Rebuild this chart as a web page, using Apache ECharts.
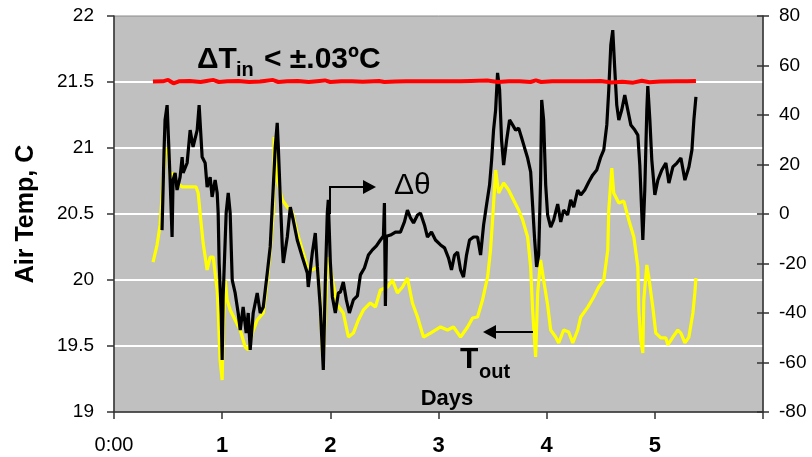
<!DOCTYPE html>
<html>
<head>
<meta charset="utf-8">
<script src="https://cdn.jsdelivr.net/npm/echarts@6/dist/echarts.min.js"></script>
<style>
html,body{margin:0;padding:0;background:#fff;}
#chart{width:812px;height:457px;}
</style>
</head>
<body>
<div id="chart"></div>
<script>
// ---- Data (days on x) ----
const xTickLabels = ['0:00', '1', '2', '3', '4', '5', ''];

// Delta T_in (left axis, C)
const redDays = [0.36,0.45,0.5,0.55,0.6,0.7,0.8,0.87,0.92,0.97,1.05,1.15,1.25,1.35,1.47,1.52,1.6,1.7,1.8,1.95,2.0,2.1,2.2,2.3,2.45,2.5,2.6,2.7,2.8,2.9,3.0,3.1,3.2,3.3,3.45,3.55,3.65,3.75,3.85,3.9,3.95,4.05,4.15,4.25,4.35,4.5,4.6,4.7,4.8,4.88,4.95,5.05,5.2,5.3,5.38];
const redTemp = [21.503,21.505,21.515,21.49,21.505,21.507,21.5,21.51,21.515,21.5,21.505,21.508,21.5,21.503,21.515,21.5,21.505,21.507,21.5,21.512,21.5,21.505,21.505,21.502,21.507,21.5,21.503,21.505,21.505,21.505,21.505,21.505,21.505,21.508,21.512,21.5,21.505,21.505,21.5,21.513,21.5,21.505,21.505,21.505,21.505,21.507,21.497,21.502,21.495,21.51,21.498,21.503,21.505,21.505,21.508];

// Delta theta (right axis)
const blackDays = [0.444,0.463,0.472,0.491,0.519,0.537,0.546,0.565,0.583,0.611,0.630,0.639,0.676,0.704,0.731,0.769,0.787,0.815,0.843,0.861,0.889,0.907,0.935,0.954,0.963,0.972,0.991,1.000,1.009,1.037,1.056,1.074,1.093,1.120,1.148,1.167,1.194,1.222,1.241,1.259,1.287,1.324,1.352,1.380,1.417,1.444,1.463,1.491,1.509,1.519,1.537,1.556,1.565,1.602,1.630,1.657,1.694,1.741,1.787,1.796,1.833,1.861,1.880,1.907,1.935,1.954,1.972,1.981,2.000,2.019,2.046,2.074,2.093,2.120,2.148,2.176,2.213,2.250,2.278,2.315,2.352,2.389,2.426,2.463,2.491,2.500,2.509,2.519,2.556,2.602,2.648,2.685,2.713,2.741,2.769,2.806,2.833,2.870,2.898,2.935,2.972,3.019,3.056,3.093,3.120,3.148,3.176,3.204,3.231,3.259,3.287,3.324,3.361,3.389,3.417,3.444,3.472,3.491,3.509,3.528,3.546,3.565,3.583,3.602,3.630,3.657,3.685,3.713,3.741,3.769,3.796,3.824,3.852,3.870,3.889,3.907,3.926,3.944,3.954,3.972,3.991,4.009,4.037,4.065,4.102,4.130,4.157,4.194,4.222,4.250,4.287,4.315,4.352,4.389,4.426,4.463,4.500,4.528,4.556,4.574,4.593,4.611,4.630,4.648,4.667,4.694,4.722,4.750,4.778,4.815,4.843,4.861,4.880,4.889,4.907,4.926,4.935,4.954,4.972,5.000,5.028,5.065,5.102,5.130,5.167,5.204,5.241,5.278,5.315,5.343,5.361,5.380];
const blackTheta = [-6.5,25.9,38.0,44.0,13.7,-9.3,13.7,16.6,9.7,14.9,23.0,16.6,20.6,33.9,27.1,33.9,44.0,23.0,20.6,10.9,14.9,6.9,13.7,8.5,0.4,-19.8,-40.0,-59.0,-33.5,0.4,8.5,0.4,-26.7,-31.9,-40.0,-46.9,-37.6,-48.1,-40.0,-54.9,-40.0,-31.9,-40.0,-37.6,-23.8,-13.3,2.8,27.1,36.8,27.1,6.9,-13.3,-19.8,-9.3,2.8,-2.4,-10.5,-17.4,-23.8,-29.5,-15.8,-7.7,-21.4,-37.6,-63.0,-26.7,0.4,5.7,-19.4,-33.5,-40.0,-31.9,-31.5,-27.5,-34.7,-40.0,-34.7,-33.1,-24.6,-21.8,-16.6,-14.5,-12.9,-10.5,-8.9,4.4,-37.2,-9.0,-8.5,-7.3,-7.3,-3.2,1.6,-1.6,-3.6,-0.4,0.4,-4.4,-9.3,-7.3,-10.5,-12.5,-13.7,-17.8,-22.6,-16.6,-15.4,-22.6,-25.5,-16.6,-10.5,-9.3,-9.3,-16.6,-4.4,3.6,11.7,21.8,33.9,42.0,57.0,50.1,29.9,19.8,29.9,38.0,36.0,33.9,34.7,30.7,26.7,22.6,17.0,3.6,-10.5,-21.4,-16.6,13.7,46.1,38.0,11.7,-0.4,-5.3,-2.4,4.0,-3.2,1.6,-0.4,5.7,2.8,9.7,7.7,9.7,12.9,15.8,17.8,23.0,25.9,36.0,50.1,68.3,74.3,58.2,44.0,38.0,42.0,48.1,42.0,36.0,33.9,31.9,19.8,-0.4,-10.5,9.7,42.0,51.7,38.0,21.8,7.7,13.7,17.8,20.6,12.5,19.0,20.6,22.6,13.7,19.0,25.9,38.0,47.3];

// T_out (left axis, C)
const yellowDays = [0.361,0.398,0.426,0.454,0.472,0.500,0.519,0.546,0.583,0.630,0.676,0.722,0.759,0.778,0.796,0.824,0.861,0.889,0.917,0.954,0.963,0.981,1.000,1.009,1.028,1.046,1.074,1.120,1.167,1.213,1.241,1.278,1.324,1.380,1.417,1.444,1.472,1.481,1.509,1.556,1.602,1.648,1.694,1.741,1.787,1.833,1.880,1.907,1.926,1.935,1.972,1.981,2.019,2.065,2.120,2.167,2.213,2.259,2.306,2.370,2.417,2.463,2.528,2.574,2.620,2.667,2.713,2.759,2.806,2.861,2.926,3.019,3.083,3.139,3.204,3.269,3.315,3.361,3.407,3.454,3.481,3.500,3.528,3.556,3.602,3.648,3.694,3.741,3.778,3.824,3.852,3.870,3.898,3.917,3.944,3.972,4.009,4.037,4.083,4.111,4.157,4.204,4.241,4.287,4.315,4.380,4.435,4.481,4.528,4.565,4.574,4.602,4.620,4.667,4.713,4.759,4.806,4.843,4.852,4.870,4.889,4.898,4.926,4.944,4.981,5.009,5.056,5.102,5.120,5.167,5.213,5.241,5.278,5.315,5.352,5.370,5.380];
const yellowTemp = [20.136,20.265,20.417,20.750,20.970,21.000,20.780,20.811,20.735,20.705,20.705,20.705,20.705,20.659,20.508,20.280,20.076,20.174,20.174,19.924,19.773,19.394,19.242,19.598,20.000,19.848,19.773,19.697,19.621,19.492,19.470,19.598,19.697,19.750,20.000,20.227,20.508,21.083,20.758,20.606,20.553,20.515,20.356,20.227,20.098,20.076,20.098,19.848,19.447,19.417,20.098,20.174,20.000,19.811,19.750,19.568,19.598,19.697,19.773,19.826,19.795,19.924,19.947,20.000,19.902,19.947,20.015,19.826,19.720,19.568,19.598,19.644,19.621,19.644,19.568,19.644,19.712,19.720,19.848,20.023,20.227,20.455,20.833,20.659,20.735,20.682,20.606,20.530,20.455,20.326,20.098,19.773,19.417,19.902,20.152,20.000,19.811,19.621,19.568,19.523,19.621,19.606,19.523,19.621,19.720,19.795,19.871,19.947,20.000,20.227,20.530,20.848,20.659,20.583,20.598,20.455,20.326,20.098,19.773,19.545,19.447,19.848,20.114,20.023,19.795,19.598,19.561,19.561,19.508,19.568,19.621,19.598,19.523,19.568,19.750,19.902,20.015];

const zip = (a, b) => a.map((v, i) => [v, b[i]]);
const FONT = '"Liberation Sans", Arial, sans-serif';

const chart = echarts.init(document.getElementById('chart'), null, {renderer: 'canvas'});

const axisLineStyle = {color: '#333333', width: 1.5};

chart.setOption({
  animation: false,
  backgroundColor: '#ffffff',
  grid: {
    left: 114, right: 49, top: 16, bottom: 45,
    show: true, backgroundColor: '#c0c0c0', borderColor: '#8a8a8a', borderWidth: 1
  },
  xAxis: {
    type: 'value', min: 0, max: 6, interval: 1,
    axisLine: {show: true, onZero: false, lineStyle: axisLineStyle},
    axisTick: {show: true, length: 7, lineStyle: axisLineStyle},
    splitLine: {show: false},
    axisLabel: {
      margin: 23,
      fontFamily: FONT,
      color: '#000',
      formatter: function (v) {
        const t = xTickLabels[Math.round(v)];
        return Math.round(v) === 0 ? '{n|' + t + '}' : '{b|' + t + '}';
      },
      rich: {
        n: {fontSize: 20, fontFamily: FONT, color: '#000'},
        b: {fontSize: 22, fontWeight: 'bold', fontFamily: FONT, color: '#000'}
      }
    }
  },
  yAxis: [
    {
      type: 'value', min: 19, max: 22, interval: 0.5, position: 'left',
      name: 'Air Temp, C', nameLocation: 'middle', nameGap: 75, nameRotate: 90,
      nameTextStyle: {fontSize: 25, fontWeight: 'bold', fontFamily: FONT, color: '#000'},
      axisLine: {show: true, lineStyle: axisLineStyle},
      axisTick: {show: true, length: 7, lineStyle: axisLineStyle},
      axisLabel: {margin: 20, fontSize: 19, fontFamily: FONT, color: '#000'},
      splitLine: {show: true, showMinLine: false, showMaxLine: false, lineStyle: {color: '#ffffff', width: 2}}
    },
    {
      type: 'value', min: -80, max: 80, interval: 20, position: 'right',
      axisLine: {show: true, lineStyle: axisLineStyle},
      axisTick: {show: true, length: 6, lineStyle: axisLineStyle},
      axisLabel: {margin: 16, fontSize: 19, fontFamily: FONT, color: '#000'},
      splitLine: {show: false}
    },
    {
      type: 'value', min: -80, max: 80, interval: 20, position: 'right',
      axisLine: {show: false},
      axisTick: {show: true, inside: true, length: 6, lineStyle: axisLineStyle},
      axisLabel: {show: false},
      splitLine: {show: false}
    }
  ],
  series: [
    {
      name: 'T_out', type: 'line', yAxisIndex: 0, showSymbol: false, symbol: 'none',
      data: zip(yellowDays, yellowTemp),
      lineStyle: {color: '#ffff00', width: 3.2}, z: 3
    },
    {
      name: 'Delta theta', type: 'line', yAxisIndex: 1, showSymbol: false, symbol: 'none',
      data: zip(blackDays, blackTheta),
      lineStyle: {color: '#000000', width: 3.2}, z: 4
    },
    {
      name: 'Delta T_in', type: 'line', yAxisIndex: 0, showSymbol: false, symbol: 'none',
      data: zip(redDays, redTemp),
      lineStyle: {color: '#ff0000', width: 4}, z: 5
    }
  ],
  graphic: [
    {type: 'text', z: 100, style: {x: 197, y: 60, text: '\u0394T', font: 'bold 30px ' + FONT, fill: '#000', textVerticalAlign: 'middle'}},
    {type: 'text', z: 100, style: {x: 236, y: 70, text: 'in', font: 'bold 20px ' + FONT, fill: '#000', textVerticalAlign: 'middle'}},
    {type: 'text', z: 100, style: {x: 264, y: 60, text: '< \u00b1.03\u00baC', font: 'bold 30px ' + FONT, fill: '#000', textVerticalAlign: 'middle'}},
    {type: 'text', z: 100, style: {x: 394, y: 186, text: '\u0394\u03b8', font: '30px ' + FONT, fill: '#000', textVerticalAlign: 'middle'}},
    {type: 'polyline', z: 100, shape: {points: [[330, 214], [330, 187], [364, 187]]}, style: {stroke: '#000', lineWidth: 2, fill: null}},
    {type: 'polygon', z: 100, shape: {points: [[363, 180], [376, 187], [363, 194]]}, style: {fill: '#000'}},
    {type: 'text', z: 100, style: {x: 460, y: 360, text: 'T', font: 'bold 30px ' + FONT, fill: '#000', textVerticalAlign: 'middle'}},
    {type: 'text', z: 100, style: {x: 479, y: 372, text: 'out', font: 'bold 20px ' + FONT, fill: '#000', textVerticalAlign: 'middle'}},
    {type: 'line', z: 100, shape: {x1: 533, y1: 332, x2: 495, y2: 332}, style: {stroke: '#000', lineWidth: 2}},
    {type: 'polygon', z: 100, shape: {points: [[496, 325], [483, 332], [496, 339]]}, style: {fill: '#000'}},
    {type: 'text', z: 100, style: {x: 447, y: 399, text: 'Days', font: 'bold 22px ' + FONT, fill: '#000', textAlign: 'center', textVerticalAlign: 'middle'}}
  ]
});
</script>
</body>
</html>
